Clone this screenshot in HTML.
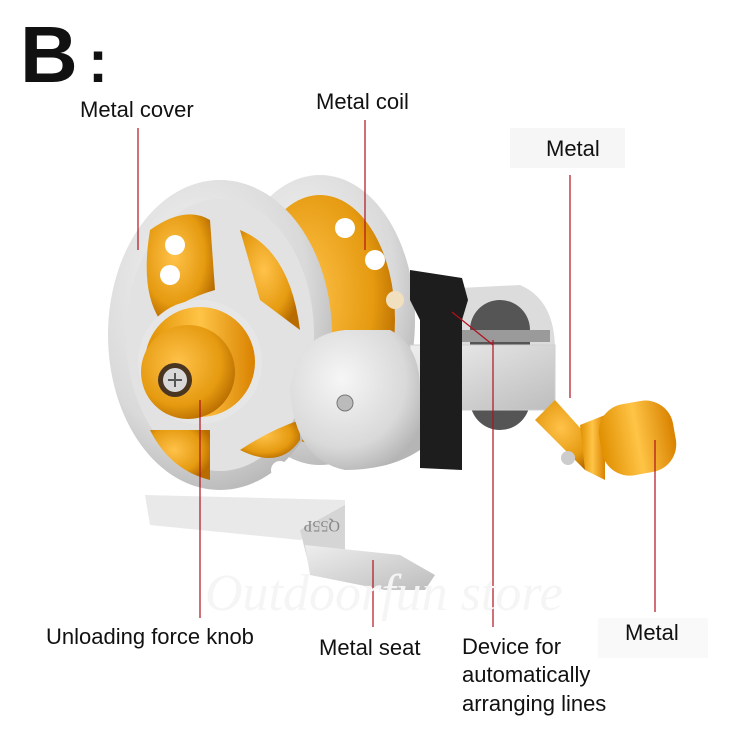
<!DOCTYPE html>
<html><head><meta charset="utf-8"><style>
html,body{margin:0;padding:0;background:#fff;}
svg{display:block}
text{font-family:"Liberation Sans",sans-serif;fill:#111;}
</style></head><body>
<svg width="750" height="750" viewBox="0 0 750 750" xmlns="http://www.w3.org/2000/svg">
<defs>
<radialGradient id="sil" cx="40%" cy="35%" r="70%"><stop offset="0" stop-color="#f6f6f6"/><stop offset="0.7" stop-color="#d9d9d9"/><stop offset="1" stop-color="#b5b5b5"/></radialGradient>
<linearGradient id="sil2" x1="0" y1="0" x2="1" y2="1"><stop offset="0" stop-color="#eeeeee"/><stop offset="1" stop-color="#bdbdbd"/></linearGradient>
<radialGradient id="gold" cx="40%" cy="40%" r="65%"><stop offset="0" stop-color="#ffc24a"/><stop offset="0.7" stop-color="#e59a10"/><stop offset="1" stop-color="#b86c00"/></radialGradient>
<linearGradient id="gold2" x1="0" y1="0" x2="1" y2="0"><stop offset="0" stop-color="#e08f00"/><stop offset="0.5" stop-color="#ffc446"/><stop offset="1" stop-color="#d98200"/></linearGradient>
</defs>
<rect width="750" height="750" fill="#fff"/>
<rect x="510" y="128" width="115" height="40" fill="#f6f6f6"/>
<rect x="598" y="618" width="110" height="40" fill="#f9f9f9"/>

<!-- base -->
<polygon points="145,495 345,500 345,520 300,540 150,525" fill="#e9e9e9"/>
<polygon points="300,530 345,505 345,560 310,570" fill="#d5d5d5"/>
<polygon points="305,545 400,555 435,575 425,590 385,590 310,575" fill="url(#sil2)"/>
<text x="300" y="535" font-size="16" transform="rotate(180 320 528)" style="font-family:'Liberation Serif',serif;fill:#888">Q55P</text>

<!-- back housing -->
<ellipse cx="320" cy="320" rx="95" ry="145" fill="url(#sil)"/>
<ellipse cx="320" cy="320" rx="75" ry="125" fill="url(#gold)"/>
<circle cx="345" cy="228" r="10" fill="#fff"/>
<circle cx="375" cy="260" r="10" fill="#fff"/>
<circle cx="395" cy="300" r="9" fill="#f0e0c0"/>
<path d="M420 290 L520 285 Q555 300 555 350 L555 410 L420 410 Z" fill="#dcdcdc"/>
<rect x="470" y="300" width="60" height="130" rx="30" fill="#555"/>
<rect x="420" y="330" width="130" height="12" fill="#9a9a9a"/>
<rect x="410" y="345" width="145" height="65" fill="url(#sil2)" stroke="#cfcfcf"/>
<path d="M410 270 L462 278 L468 300 L462 320 L462 470 L420 468 L420 320 L410 300 Z" fill="#1d1d1d"/>

<!-- front disk -->
<ellipse cx="220" cy="335" rx="112" ry="155" fill="url(#sil)"/>
<ellipse cx="220" cy="335" rx="94" ry="136" fill="#e2e2e2"/>
<path d="M150 230 Q185 205 210 220 L215 290 Q180 300 160 320 Q140 290 150 230Z" fill="url(#gold)"/>
<path d="M240 230 Q290 250 300 330 L260 300 Z" fill="url(#gold)"/>
<path d="M150 430 Q170 470 210 480 L210 430Z" fill="url(#gold)"/>
<path d="M240 450 Q280 470 300 440 L300 420 Q270 430 240 450Z" fill="url(#gold)"/>
<circle cx="175" cy="245" r="10" fill="#fff"/>
<circle cx="170" cy="275" r="10" fill="#fff"/>
<circle cx="280" cy="470" r="9" fill="#fff"/>
<circle cx="200" cy="362" r="62" fill="#e6e6e6"/>
<circle cx="200" cy="362" r="55" fill="url(#gold2)"/>
<circle cx="188" cy="372" r="47" fill="url(#gold)"/>
<circle cx="175" cy="380" r="17" fill="#4a3520"/>
<circle cx="175" cy="380" r="12" fill="#d9d9d9"/>
<path d="M168 380 L182 380 M175 373 L175 387" stroke="#555" stroke-width="2"/>

<path d="M290 390 Q295 335 345 330 L390 330 Q420 345 420 390 L420 450 Q390 470 345 470 Q295 460 290 390Z" fill="url(#sil)"/>
<circle cx="345" cy="403" r="8" fill="#bbb" stroke="#777"/>

<!-- handle -->
<path d="M535 420 L555 400 L600 450 L585 470 Z" fill="url(#gold)"/>
<polygon points="580,425 605,415 605,480 585,470" fill="url(#gold2)"/>
<rect x="600" y="402" width="75" height="72" rx="28" fill="url(#gold2)" transform="rotate(-10 638 438)"/>
<circle cx="568" cy="458" r="7" fill="#ccc"/>

<g stroke="#b01020" stroke-width="1.2">
<line x1="138" y1="128" x2="138" y2="250"/>
<line x1="365" y1="120" x2="365" y2="250"/>
<line x1="570" y1="175" x2="570" y2="398"/>
<line x1="200" y1="400" x2="200" y2="618"/>
<line x1="373" y1="560" x2="373" y2="627"/>
<line x1="493" y1="340" x2="493" y2="627"/>
<line x1="452" y1="312" x2="493" y2="345"/>
<line x1="655" y1="440" x2="655" y2="612"/>
</g>

<text x="205" y="610" font-size="52" font-style="italic" style="font-family:'Liberation Serif',serif;fill:#f5f5f5">Outdoorfun store</text>

<text x="20" y="82" font-size="80" font-weight="bold">B</text>
<text x="88" y="82" font-size="60" font-weight="bold">:</text>
<text x="80" y="117" font-size="22">Metal cover</text>
<text x="316" y="109" font-size="22">Metal coil</text>
<text x="546" y="156" font-size="22">Metal</text>
<text x="46" y="644" font-size="22">Unloading force knob</text>
<text x="319" y="655" font-size="22">Metal seat</text>
<text x="462" y="654" font-size="22">Device for</text>
<text x="462" y="682" font-size="22">automatically</text>
<text x="462" y="711" font-size="22">arranging lines</text>
<text x="625" y="640" font-size="22">Metal</text>
</svg>
</body></html>
